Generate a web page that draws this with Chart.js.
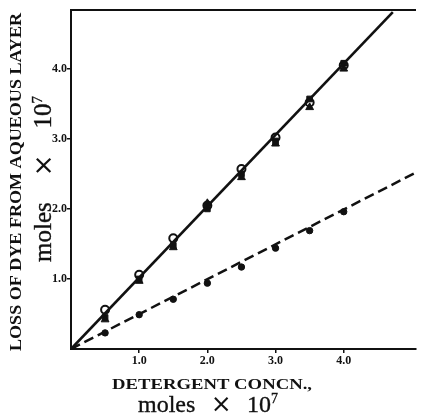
<!DOCTYPE html>
<html>
<head>
<meta charset="utf-8">
<script src="https://cdn.jsdelivr.net/npm/chart.js@4.4.0/dist/chart.umd.min.js"></script>
<style>
  html, body { margin: 0; padding: 0; background: #fff; }
  #wrap { width: 422px; height: 418px; position: relative; }
</style>
</head>
<body>
<div id="wrap"><canvas id="chart"></canvas></div>
<script>
// detergent concentration, moles x 10^7
const concn = [0.5, 1.0, 1.5, 2.0, 2.5, 3.0, 3.5, 4.0];
// loss of dye, moles x 10^7
const openCircles = [0.56, 1.06, 1.58, 2.05, 2.57, 3.02, 3.52, 4.05];
const triangles = [0.42, 0.97, 1.45, 2.08, 2.45, 2.93, 3.45, 4.00];
const squares = [0.45, 1.00, 1.48, 2.00, 2.50, 2.97, 3.57, 4.08];
const dots = [0.23, 0.49, 0.71, 0.94, 1.17, 1.44, 1.69, 1.96];
// fitted lines (end points)
const solidFitX = [0, 4.72];
const solidFitY = [0, 4.81];
const dashFitX = [0, 5.06];
const dashFitY = [0, 2.52];
const tickValues = [1, 2, 3, 4];

const pts = (xs, ys) => xs.map((x, i) => ({ x, y: ys[i] }));
const SERIF = '"Liberation Serif", "DejaVu Serif", serif';
const INK = '#111';

// caps title, stretched horizontally to a given width; y is the baseline
function capsTitle(ctx, text, cx, baseY, width, size, rot) {
  ctx.save();
  ctx.font = 'bold ' + size + 'px ' + SERIF;
  const w = ctx.measureText(text).width;
  ctx.translate(cx, baseY);
  if (rot) ctx.rotate(rot);
  ctx.scale(width / w, 1);
  ctx.textAlign = 'center';
  ctx.textBaseline = 'alphabetic';
  ctx.fillStyle = INK;
  ctx.fillText(text, 0, 0);
  ctx.restore();
}

// "moles × 10^7" drawn piece by piece, spaced out to a given width
function unitsLabel(ctx, cx, baseY, width, size, rot) {
  ctx.save();
  ctx.translate(cx, baseY);
  if (rot) ctx.rotate(rot);
  ctx.fillStyle = INK;
  ctx.strokeStyle = INK;
  ctx.lineWidth = 0.35;
  ctx.textBaseline = 'alphabetic';
  ctx.textAlign = 'left';
  const big = size + 'px ' + SERIF;
  const sup = Math.round(size * 0.6) + 'px ' + SERIF;
  const cross = Math.round(size * 1.05) + 'px "DejaVu Sans", sans-serif';
  const put = (t, x, y) => { ctx.fillText(t, x, y); ctx.strokeText(t, x, y); };
  ctx.font = big;
  const wMoles = ctx.measureText('moles').width;
  const wTen = ctx.measureText('10').width;
  ctx.font = cross;
  const wX = ctx.measureText('×').width;
  ctx.font = sup;
  const wSup = ctx.measureText('7').width;
  const gap = (width - wMoles - wX - wTen - wSup) / 2;
  let x = -width / 2;
  ctx.font = big;
  put('moles', x, 0);
  x += wMoles + gap;
  ctx.font = cross;
  ctx.fillText('×', x, size * 0.02);
  x += wX + gap;
  ctx.font = big;
  put('10', x, 0);
  x += wTen;
  ctx.font = sup;
  put('7', x, -size * 0.38);
  ctx.restore();
}

const decor = {
  id: 'decor',
  afterDraw(chart) {
    const { ctx, chartArea } = chart;
    ctx.save();
    ctx.strokeStyle = INK;
    ctx.lineWidth = 2;
    ctx.beginPath();
    ctx.moveTo(chartArea.left - 1, chartArea.top);
    ctx.lineTo(chartArea.right, chartArea.top);
    ctx.stroke();
    ctx.restore();
    const up = -Math.PI / 2;
    capsTitle(ctx, 'LOSS OF DYE FROM AQUEOUS LAYER', 21, 182, 338, 16, up);
    unitsLabel(ctx, 51, 179, 166, 25, up);
    capsTitle(ctx, 'DETERGENT CONCN.,', 212, 389, 200, 15, 0);
    unitsLabel(ctx, 208, 412, 140, 24, 0);
  }
};

const axisCommon = {
  type: 'linear',
  min: 0,
  border: { color: INK, width: 2 },
  grid: { drawOnChartArea: false, drawTicks: true, tickLength: 4, color: INK, lineWidth: 1.5 },
  afterBuildTicks: axis => { axis.ticks = tickValues.map(v => ({ value: v })); },
  ticks: {
    color: INK,
    font: { family: SERIF, size: 12, weight: 'bold' },
    callback: v => v.toFixed(1)
  }
};

new Chart(document.getElementById('chart'), {
  type: 'scatter',
  data: {
    datasets: [
      {
        type: 'line', data: pts(solidFitX, solidFitY),
        borderColor: INK, borderWidth: 2.6, pointRadius: 0, fill: false
      },
      {
        type: 'line', data: pts(dashFitX, dashFitY),
        borderColor: INK, borderWidth: 2.5, borderDash: [10, 5], pointRadius: 0, fill: false
      },
      {
        data: pts(concn, triangles), pointStyle: 'triangle', pointRadius: 4.5,
        backgroundColor: INK, borderColor: INK, borderWidth: 1
      },
      {
        data: pts(concn, squares), pointStyle: 'rect', pointRadius: 4,
        backgroundColor: INK, borderColor: INK, borderWidth: 1
      },
      {
        data: pts(concn, openCircles), pointStyle: 'circle', pointRadius: 4,
        backgroundColor: '#fff', borderColor: INK, borderWidth: 2
      },
      {
        data: pts(concn, dots), pointStyle: 'circle', pointRadius: 3.2,
        backgroundColor: INK, borderColor: INK, borderWidth: 1
      }
    ]
  },
  options: {
    responsive: true,
    maintainAspectRatio: false,
    animation: false,
    layout: { padding: { top: 10, right: 0, left: 0, bottom: 0 } },
    plugins: { legend: { display: false }, tooltip: { enabled: false } },
    scales: {
      x: Object.assign({}, axisCommon, {
        max: 5.06,
        ticks: Object.assign({}, axisCommon.ticks, { padding: 1 }),
        afterFit: s => { s.height = 69; s.paddingLeft = 0; s.paddingRight = 0; }
      }),
      y: Object.assign({}, axisCommon, {
        max: 4.84,
        ticks: Object.assign({}, axisCommon.ticks, { padding: 0 }),
        afterFit: s => { s.width = 71; s.paddingTop = 0; s.paddingBottom = 0; }
      })
    }
  },
  plugins: [decor]
});
</script>
</body>
</html>
